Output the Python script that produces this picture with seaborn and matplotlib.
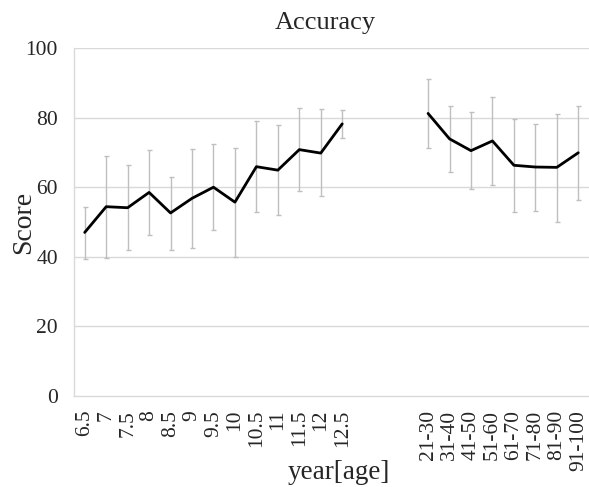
import numpy as np
import pandas as pd
import matplotlib
matplotlib.use("Agg")
import matplotlib.pyplot as plt
import seaborn as sns

# categories
child_ages = ["6.5", "7", "7.5", "8", "8.5", "9", "9.5", "10", "10.5", "11", "11.5", "12", "12.5"]
adult_ages = ["21-30", "31-40", "41-50", "51-60", "61-70", "71-80", "81-90", "91-100"]

# mean score and error bar ends
child_score = [47.0, 54.4, 54.1, 58.5, 52.6, 56.8, 60.0, 55.7, 65.9, 64.9, 70.8, 69.8, 78.2]
child_upper = [54.4, 69.0, 66.5, 70.6, 63.0, 70.9, 72.5, 71.4, 79.0, 78.0, 82.8, 82.5, 82.2]
child_lower = [39.5, 39.7, 41.9, 46.4, 42.0, 42.5, 47.6, 40.0, 52.9, 52.1, 58.8, 57.4, 74.0]

adult_score = [81.2, 73.9, 70.5, 73.3, 66.3, 65.8, 65.7, 69.9]
adult_upper = [91.2, 83.4, 81.7, 85.9, 79.6, 78.1, 81.1, 83.4]
adult_lower = [71.4, 64.4, 59.4, 60.5, 52.9, 53.1, 50.1, 56.3]

gap_slots = 3

labels = child_ages + [""] * gap_slots + adult_ages
child_pos = np.arange(len(child_ages))
adult_pos = np.arange(len(adult_ages)) + len(child_ages) + gap_slots

df = pd.concat([
    pd.DataFrame({"pos": child_pos, "score": child_score, "lo": child_lower, "hi": child_upper, "group": "child"}),
    pd.DataFrame({"pos": adult_pos, "score": adult_score, "lo": adult_lower, "hi": adult_upper, "group": "adult"}),
], ignore_index=True)

sns.set_style("white")
plt.rcParams["font.family"] = ["Liberation Serif", "DejaVu Serif"]

fig = plt.figure(figsize=(5.89, 4.87), dpi=100)
ax = fig.add_axes([0.1256, 0.1869, 0.8744, 0.7145])

grid_c = "#d9d9d9"
for v in range(20, 101, 20):
    ax.axhline(v, color=grid_c, lw=1, zorder=0)

# error bars
ax.errorbar(df["pos"], df["score"],
            yerr=[df["score"] - df["lo"], df["hi"] - df["score"]],
            fmt="none", ecolor="#bfbfbf", elinewidth=1, capsize=1.8, capthick=1, zorder=2)

sns.lineplot(data=df, x="pos", y="score", units="group", estimator=None,
             color="black", lw=2, ax=ax, zorder=3)

ax.set_xlim(-0.5, len(labels) - 0.5)
ax.set_ylim(0, 100)
ax.set_yticks(range(0, 101, 20))

ax.set_xticks(np.arange(len(labels)))
ax.set_xticklabels(labels, rotation=90, fontsize=15.5)
ax.set_xticks(np.arange(len(labels) + 1) - 0.5, minor=True)
ax.tick_params(axis="x", which="major", length=0, pad=10)
ax.tick_params(axis="x", which="minor", length=5, color=grid_c, width=1)
ax.tick_params(axis="y", length=6, color=grid_c, width=1, labelsize=15.5, pad=5.5)

for side in ["top", "right"]:
    ax.spines[side].set_visible(False)
for side in ["left", "bottom"]:
    ax.spines[side].set_color(grid_c)
    ax.spines[side].set_linewidth(1)

ax.set_title("Accuracy", fontsize=19, pad=14, x=0.488)
ax.set_xlabel("year[age]", fontsize=19.5)
ax.xaxis.set_label_coords(0.515, -0.185)
ax.set_ylabel("Score", fontsize=20)
ax.yaxis.set_label_coords(-0.074, 0.5)

fig.savefig("out.png", dpi=100)
